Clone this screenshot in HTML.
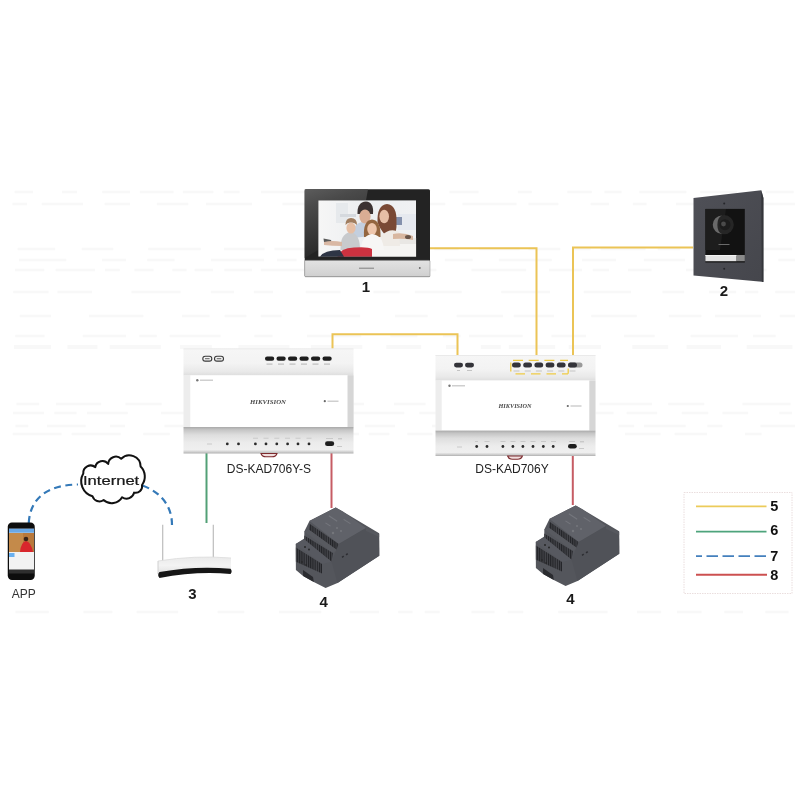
<!DOCTYPE html>
<html><head><meta charset="utf-8">
<style>
html,body{margin:0;padding:0;background:#fff;width:800px;height:800px;overflow:hidden}
svg{display:block;filter:blur(0.3px)}
text{font-family:"Liberation Sans",sans-serif}
</style></head>
<body>
<svg width="800" height="800" viewBox="0 0 800 800">
<defs>
  <linearGradient id="topsec" x1="0" y1="0" x2="0" y2="1">
    <stop offset="0" stop-color="#f6f6f6"/><stop offset="0.55" stop-color="#f3f3f3"/><stop offset="0.85" stop-color="#e9e9e9"/><stop offset="1" stop-color="#dedede"/>
  </linearGradient>
  <linearGradient id="botsec" x1="0" y1="0" x2="0" y2="1">
    <stop offset="0" stop-color="#a9a9a9"/><stop offset="0.1" stop-color="#c4c4c4"/><stop offset="0.3" stop-color="#dedede"/><stop offset="0.6" stop-color="#ececec"/><stop offset="0.86" stop-color="#efefef"/><stop offset="0.94" stop-color="#cfcfcf"/><stop offset="1" stop-color="#b0b0b0"/>
  </linearGradient>
  <linearGradient id="silver" x1="0" y1="0" x2="0" y2="1">
    <stop offset="0" stop-color="#e2e2e2"/><stop offset="0.5" stop-color="#d9d9d9"/><stop offset="1" stop-color="#cfcfcf"/>
  </linearGradient>
  <linearGradient id="bezel" x1="0" y1="0" x2="1" y2="0.3">
    <stop offset="0" stop-color="#4a4a4a"/><stop offset="0.45" stop-color="#3a3a3a"/><stop offset="0.46" stop-color="#1d1d1d"/><stop offset="1" stop-color="#1a1a1a"/>
  </linearGradient>
  <linearGradient id="doorg" x1="0" y1="0" x2="1" y2="1">
    <stop offset="0" stop-color="#4f5057"/><stop offset="1" stop-color="#45464c"/>
  </linearGradient>
  <linearGradient id="scrbg" x1="0" y1="0" x2="1" y2="0">
    <stop offset="0" stop-color="#f6f6f6"/><stop offset="0.5" stop-color="#eceef0"/><stop offset="1" stop-color="#f0f1f3"/>
  </linearGradient>
  <filter id="soft" x="-5%" y="-5%" width="110%" height="110%"><feGaussianBlur stdDeviation="0.45"/></filter>
  <linearGradient id="rtr" x1="0" y1="0" x2="0" y2="1"><stop offset="0" stop-color="#eaeaea"/><stop offset="0.5" stop-color="#f3f3f3"/><stop offset="1" stop-color="#e0e0e0"/></linearGradient>
  <pattern id="vents" width="2.2" height="10" patternUnits="userSpaceOnUse"><rect width="2.2" height="10" fill="#45464b"/><rect width="1.1" height="10" fill="#222327"/></pattern>
  <linearGradient id="refl" x1="0" y1="0" x2="0.3" y2="1"><stop offset="0" stop-color="#5c5c5c"/><stop offset="0.25" stop-color="#4a4a4a"/><stop offset="1" stop-color="#262626"/></linearGradient>
  <clipPath id="scr"><rect x="318.2" y="200.2" width="97.9" height="56.5"/></clipPath>
</defs>

<g id="ghost" fill="#f8f8f8"><rect x="14.6" y="190.7" width="18.5" height="2.6"/><rect x="61.9" y="190.7" width="15.1" height="2.6"/><rect x="102.2" y="190.7" width="27.7" height="2.6"/><rect x="139.8" y="190.7" width="33.8" height="2.6"/><rect x="182.8" y="190.7" width="30.6" height="2.6"/><rect x="223.7" y="190.7" width="15.9" height="2.6"/><rect x="261.1" y="190.7" width="47.6" height="2.6"/><rect x="320.7" y="190.7" width="21.6" height="2.6"/><rect x="370.3" y="190.7" width="52.8" height="2.6"/><rect x="449.5" y="190.7" width="29.1" height="2.6"/><rect x="517.8" y="190.7" width="14.0" height="2.6"/><rect x="567.3" y="190.7" width="24.5" height="2.6"/><rect x="604.4" y="190.7" width="17.1" height="2.6"/><rect x="639.3" y="190.7" width="47.1" height="2.6"/><rect x="700.2" y="190.7" width="37.0" height="2.6"/><rect x="765.7" y="190.7" width="28.0" height="2.6"/><rect x="12.5" y="202.7" width="14.6" height="2.6"/><rect x="41.7" y="202.7" width="41.3" height="2.6"/><rect x="104.6" y="202.7" width="25.5" height="2.6"/><rect x="156.8" y="202.7" width="31.5" height="2.6"/><rect x="205.9" y="202.7" width="46.2" height="2.6"/><rect x="282.4" y="202.7" width="22.5" height="2.6"/><rect x="331.3" y="202.7" width="34.6" height="2.6"/><rect x="401.9" y="202.7" width="43.4" height="2.6"/><rect x="462.5" y="202.7" width="54.1" height="2.6"/><rect x="528.4" y="202.7" width="30.0" height="2.6"/><rect x="590.6" y="202.7" width="18.5" height="2.6"/><rect x="632.8" y="202.7" width="13.7" height="2.6"/><rect x="675.9" y="202.7" width="44.9" height="2.6"/><rect x="747.1" y="202.7" width="47.9" height="2.6"/><rect x="17.6" y="247.7" width="37.6" height="2.6"/><rect x="81.7" y="247.7" width="31.6" height="2.6"/><rect x="148.2" y="247.7" width="52.6" height="2.6"/><rect x="224.0" y="247.7" width="40.6" height="2.6"/><rect x="274.5" y="247.7" width="42.2" height="2.6"/><rect x="345.3" y="247.7" width="54.7" height="2.6"/><rect x="434.3" y="247.7" width="24.2" height="2.6"/><rect x="478.9" y="247.7" width="40.8" height="2.6"/><rect x="528.4" y="247.7" width="31.9" height="2.6"/><rect x="573.6" y="247.7" width="17.0" height="2.6"/><rect x="600.6" y="247.7" width="45.0" height="2.6"/><rect x="657.7" y="247.7" width="22.6" height="2.6"/><rect x="700.9" y="247.7" width="49.5" height="2.6"/><rect x="760.9" y="247.7" width="31.3" height="2.6"/><rect x="19.1" y="258.7" width="47.2" height="2.6"/><rect x="101.9" y="258.7" width="24.0" height="2.6"/><rect x="147.2" y="258.7" width="27.4" height="2.6"/><rect x="210.9" y="258.7" width="53.2" height="2.6"/><rect x="276.9" y="258.7" width="19.6" height="2.6"/><rect x="311.9" y="258.7" width="22.0" height="2.6"/><rect x="357.5" y="258.7" width="37.3" height="2.6"/><rect x="411.2" y="258.7" width="12.2" height="2.6"/><rect x="444.8" y="258.7" width="27.9" height="2.6"/><rect x="498.8" y="258.7" width="53.0" height="2.6"/><rect x="581.9" y="258.7" width="34.2" height="2.6"/><rect x="643.8" y="258.7" width="41.1" height="2.6"/><rect x="694.6" y="258.7" width="50.7" height="2.6"/><rect x="778.3" y="258.7" width="16.7" height="2.6"/><rect x="15.1" y="268.7" width="29.2" height="2.6"/><rect x="55.6" y="268.7" width="39.3" height="2.6"/><rect x="104.9" y="268.7" width="14.9" height="2.6"/><rect x="134.5" y="268.7" width="19.0" height="2.6"/><rect x="172.3" y="268.7" width="14.3" height="2.6"/><rect x="194.6" y="268.7" width="18.5" height="2.6"/><rect x="224.3" y="268.7" width="27.6" height="2.6"/><rect x="260.8" y="268.7" width="49.6" height="2.6"/><rect x="338.0" y="268.7" width="18.4" height="2.6"/><rect x="372.5" y="268.7" width="26.9" height="2.6"/><rect x="419.1" y="268.7" width="17.3" height="2.6"/><rect x="471.5" y="268.7" width="54.7" height="2.6"/><rect x="549.1" y="268.7" width="32.8" height="2.6"/><rect x="592.7" y="268.7" width="16.4" height="2.6"/><rect x="628.1" y="268.7" width="23.4" height="2.6"/><rect x="686.0" y="268.7" width="18.9" height="2.6"/><rect x="713.6" y="268.7" width="52.9" height="2.6"/><rect x="13.2" y="290.7" width="35.4" height="2.6"/><rect x="57.4" y="290.7" width="34.7" height="2.6"/><rect x="131.4" y="290.7" width="49.1" height="2.6"/><rect x="210.8" y="290.7" width="23.2" height="2.6"/><rect x="253.8" y="290.7" width="19.2" height="2.6"/><rect x="305.7" y="290.7" width="34.9" height="2.6"/><rect x="373.5" y="290.7" width="26.2" height="2.6"/><rect x="414.8" y="290.7" width="46.9" height="2.6"/><rect x="501.2" y="290.7" width="48.7" height="2.6"/><rect x="583.7" y="290.7" width="47.2" height="2.6"/><rect x="662.5" y="290.7" width="21.7" height="2.6"/><rect x="708.9" y="290.7" width="27.3" height="2.6"/><rect x="745.1" y="290.7" width="13.2" height="2.6"/><rect x="775.2" y="290.7" width="19.8" height="2.6"/><rect x="19.7" y="314.7" width="31.2" height="2.6"/><rect x="88.9" y="314.7" width="54.5" height="2.6"/><rect x="181.9" y="314.7" width="27.7" height="2.6"/><rect x="224.6" y="314.7" width="21.8" height="2.6"/><rect x="260.7" y="314.7" width="20.8" height="2.6"/><rect x="309.5" y="314.7" width="50.7" height="2.6"/><rect x="395.1" y="314.7" width="32.6" height="2.6"/><rect x="456.6" y="314.7" width="46.4" height="2.6"/><rect x="513.7" y="314.7" width="40.4" height="2.6"/><rect x="591.2" y="314.7" width="45.6" height="2.6"/><rect x="668.8" y="314.7" width="32.6" height="2.6"/><rect x="715.1" y="314.7" width="45.9" height="2.6"/><rect x="779.7" y="314.7" width="15.3" height="2.6"/><rect x="15.2" y="334.7" width="29.3" height="2.6"/><rect x="82.7" y="334.7" width="43.2" height="2.6"/><rect x="139.3" y="334.7" width="17.5" height="2.6"/><rect x="169.6" y="334.7" width="50.9" height="2.6"/><rect x="254.3" y="334.7" width="18.3" height="2.6"/><rect x="307.1" y="334.7" width="54.2" height="2.6"/><rect x="390.3" y="334.7" width="27.1" height="2.6"/><rect x="442.9" y="334.7" width="17.6" height="2.6"/><rect x="469.0" y="334.7" width="53.7" height="2.6"/><rect x="551.5" y="334.7" width="34.6" height="2.6"/><rect x="624.0" y="334.7" width="30.7" height="2.6"/><rect x="690.6" y="334.7" width="47.5" height="2.6"/><rect x="752.9" y="334.7" width="22.8" height="2.6"/><rect x="13.9" y="345.0" width="37.2" height="4"/><rect x="67.4" y="345.0" width="30.0" height="4"/><rect x="109.7" y="345.0" width="51.1" height="4"/><rect x="180.1" y="345.0" width="31.7" height="4"/><rect x="238.5" y="345.0" width="50.9" height="4"/><rect x="310.8" y="345.0" width="51.5" height="4"/><rect x="386.3" y="345.0" width="34.9" height="4"/><rect x="446.0" y="345.0" width="12.8" height="4"/><rect x="480.8" y="345.0" width="19.9" height="4"/><rect x="508.8" y="345.0" width="46.4" height="4"/><rect x="568.7" y="345.0" width="32.4" height="4"/><rect x="632.3" y="345.0" width="35.9" height="4"/><rect x="686.6" y="345.0" width="34.3" height="4"/><rect x="746.7" y="345.0" width="45.7" height="4"/><rect x="16.5" y="402.7" width="22.7" height="2.6"/><rect x="56.0" y="402.7" width="45.2" height="2.6"/><rect x="125.5" y="402.7" width="36.2" height="2.6"/><rect x="194.0" y="402.7" width="51.2" height="2.6"/><rect x="267.4" y="402.7" width="38.3" height="2.6"/><rect x="329.9" y="402.7" width="34.0" height="2.6"/><rect x="394.1" y="402.7" width="31.5" height="2.6"/><rect x="450.6" y="402.7" width="32.6" height="2.6"/><rect x="521.3" y="402.7" width="42.1" height="2.6"/><rect x="599.4" y="402.7" width="52.5" height="2.6"/><rect x="668.2" y="402.7" width="36.1" height="2.6"/><rect x="742.5" y="402.7" width="48.1" height="2.6"/><rect x="13.0" y="411.7" width="31.0" height="2.6"/><rect x="54.3" y="411.7" width="22.3" height="2.6"/><rect x="87.0" y="411.7" width="40.8" height="2.6"/><rect x="160.9" y="411.7" width="50.6" height="2.6"/><rect x="224.4" y="411.7" width="42.8" height="2.6"/><rect x="296.3" y="411.7" width="18.1" height="2.6"/><rect x="350.7" y="411.7" width="53.6" height="2.6"/><rect x="419.3" y="411.7" width="53.0" height="2.6"/><rect x="493.0" y="411.7" width="33.0" height="2.6"/><rect x="565.7" y="411.7" width="47.8" height="2.6"/><rect x="626.6" y="411.7" width="30.6" height="2.6"/><rect x="681.7" y="411.7" width="26.6" height="2.6"/><rect x="722.5" y="411.7" width="25.7" height="2.6"/><rect x="779.3" y="411.7" width="12.8" height="2.6"/><rect x="15.5" y="424.7" width="12.8" height="2.6"/><rect x="46.9" y="424.7" width="38.8" height="2.6"/><rect x="110.1" y="424.7" width="14.8" height="2.6"/><rect x="164.4" y="424.7" width="45.9" height="2.6"/><rect x="249.4" y="424.7" width="16.5" height="2.6"/><rect x="282.4" y="424.7" width="13.7" height="2.6"/><rect x="329.0" y="424.7" width="23.6" height="2.6"/><rect x="364.8" y="424.7" width="30.2" height="2.6"/><rect x="432.1" y="424.7" width="47.2" height="2.6"/><rect x="495.6" y="424.7" width="18.4" height="2.6"/><rect x="551.5" y="424.7" width="36.5" height="2.6"/><rect x="618.4" y="424.7" width="15.8" height="2.6"/><rect x="644.1" y="424.7" width="41.6" height="2.6"/><rect x="707.3" y="424.7" width="15.1" height="2.6"/><rect x="760.5" y="424.7" width="34.5" height="2.6"/><rect x="12.7" y="432.7" width="48.8" height="2.6"/><rect x="71.6" y="432.7" width="49.1" height="2.6"/><rect x="143.2" y="432.7" width="26.6" height="2.6"/><rect x="195.5" y="432.7" width="51.8" height="2.6"/><rect x="263.9" y="432.7" width="17.6" height="2.6"/><rect x="306.4" y="432.7" width="22.3" height="2.6"/><rect x="340.1" y="432.7" width="18.9" height="2.6"/><rect x="368.7" y="432.7" width="20.7" height="2.6"/><rect x="407.3" y="432.7" width="25.1" height="2.6"/><rect x="464.7" y="432.7" width="24.5" height="2.6"/><rect x="513.2" y="432.7" width="19.6" height="2.6"/><rect x="552.0" y="432.7" width="12.8" height="2.6"/><rect x="580.8" y="432.7" width="12.7" height="2.6"/><rect x="624.9" y="432.7" width="35.7" height="2.6"/><rect x="674.6" y="432.7" width="32.4" height="2.6"/><rect x="745.0" y="432.7" width="16.6" height="2.6"/><rect x="15.5" y="610.7" width="33.3" height="2.6"/><rect x="83.5" y="610.7" width="28.9" height="2.6"/><rect x="136.6" y="610.7" width="41.6" height="2.6"/><rect x="217.6" y="610.7" width="26.7" height="2.6"/><rect x="278.9" y="610.7" width="42.4" height="2.6"/><rect x="349.7" y="610.7" width="29.4" height="2.6"/><rect x="398.2" y="610.7" width="14.3" height="2.6"/><rect x="424.7" y="610.7" width="15.0" height="2.6"/><rect x="471.5" y="610.7" width="23.0" height="2.6"/><rect x="507.7" y="610.7" width="15.6" height="2.6"/><rect x="558.2" y="610.7" width="49.4" height="2.6"/><rect x="637.1" y="610.7" width="24.1" height="2.6"/><rect x="677.0" y="610.7" width="24.6" height="2.6"/><rect x="724.3" y="610.7" width="18.8" height="2.6"/><rect x="765.3" y="610.7" width="23.3" height="2.6"/></g>
<!-- ===== LINES ===== -->
<g fill="none" stroke-width="2">
  <path d="M430 248.2 H536.5 V355" stroke="#ebc456"/>
  <path d="M693 247.5 H573 V355" stroke="#ebc456"/>
  <path d="M332.5 349 V334.3 H457.5 V355" stroke="#ebc456"/>
  <path d="M206.5 453 V523" stroke="#52a076"/>
  <path d="M331.5 453 V508" stroke="#c65c64"/>
  <path d="M572.8 456 V505" stroke="#c65c64"/>
  <path d="M28.75 523 C 30 500, 45 485, 78 484.5" stroke="#3479b8" stroke-width="2.2" stroke-dasharray="7 4.5"/>
  <path d="M142.5 485.5 C 160 492, 172 505, 172 525" stroke="#3479b8" stroke-width="2.2" stroke-dasharray="7 4.5"/>
</g>

<!-- ===== MONITOR (1) ===== -->
<g id="monitor">
  <rect x="304.7" y="189.2" width="125.3" height="87.8" rx="1.5" fill="#232323"/>
  <polygon points="304.7,189.2 368,189.2 366,200.2 318.2,200.2 318.2,250 304.7,258" fill="url(#refl)"/>
  <rect x="304.7" y="260.4" width="125.3" height="16.4" rx="1" fill="url(#silver)" stroke="#9a9a9a" stroke-width="0.6"/>
  <rect x="359" y="267.6" width="15" height="1.3" fill="#666" opacity="0.6"/>
  <circle cx="419.8" cy="268" r="0.9" fill="#666"/>
  <g clip-path="url(#scr)">
    <g filter="url(#soft)">
    <rect x="318.2" y="200.2" width="97.9" height="56.5" fill="url(#scrbg)"/>
    <rect x="336" y="203" width="12" height="20" fill="#e6e9ec"/>
    <rect x="340" y="214" width="16" height="3" fill="#d5d9de"/>
    <rect x="398" y="214" width="18" height="16" fill="#e6e9ef"/>
    <rect x="395" y="217" width="7" height="8" fill="#5a6a90" opacity="0.7"/>
    <!-- sofa -->
    <rect x="372" y="240" width="46" height="18" fill="#f5f4f2"/>
    <rect x="396" y="238" width="22" height="6" fill="#e9e7e4"/>
    <!-- man -->
    <path d="M352 238 Q352 224 362 222 Q371 223 372 236 Z" fill="#c3cfdf"/>
    <path d="M357.5 214 Q357 202 366 201.5 Q374 202 373 214 Z" fill="#3b3330"/>
    <ellipse cx="365" cy="216.5" rx="5.6" ry="7" fill="#d9ad94"/>
    <!-- woman -->
    <path d="M377.5 222 Q377 205 387 204 Q397 205 396.5 222 Q397 233 393 237 L386 236 Q381 230 379 226 Z" fill="#7a4a36"/>
    <ellipse cx="384.2" cy="216.5" rx="4.8" ry="6.8" fill="#e6bea6"/>
    <path d="M381 236 Q390 227 399 232 L400 246 L382 246 Z" fill="#efebe6"/>
    <path d="M393 234 Q403 232 413 236 L413 240 Q403 238 393 239 Z" fill="#d8b7a0"/>
    <ellipse cx="408" cy="237" rx="3" ry="2" fill="#6b5548"/>
    <!-- boy -->
    <path d="M340.5 250 Q340 234 350 232 Q360 233 360 250 Z" fill="#c8cacd"/>
    <ellipse cx="351" cy="228" rx="4.6" ry="5.6" fill="#e6bfa5"/>
    <path d="M345.5 225 Q345.5 218 351 218 Q357 218 357 225 Q354.5 222 351 222.5 Q347.5 222 345.5 225Z" fill="#a07d5e"/>
    <polygon points="323.5,238.5 331,240 332,243.5 324,242" fill="#5a5a5a"/>
    <path d="M324 242 Q332 240 342 242 L342 246 Q332 246 324 245 Z" fill="#d9b8a4"/>
    <!-- girl -->
    <path d="M364 237 Q363 220 372 219.5 Q381 220 380.5 237 Z" fill="#94663f"/>
    <ellipse cx="372" cy="229" rx="4.8" ry="6" fill="#eec6ac"/>
    <path d="M360.5 250 Q362 235 372 234 Q383 235 384 250 Z" fill="#f7f6f5"/>
    <!-- pants -->
    <path d="M337.5 256.7 Q340 248 354 247.5 Q368 246.5 372 249 L372 256.7 Z" fill="#cc3341"/>
    <path d="M320 256.7 Q324 250 340 250 L344 256.7 Z" fill="#2d3444"/>
    </g>
  </g>
</g>

<!-- ===== DOOR STATION (2) ===== -->
<g id="door">
  <polygon points="693.5,197.9 761.3,190.3 763.4,198 763.4,282 761.8,281.8 693.5,275.6" fill="url(#doorg)"/>
  <polygon points="761.3,190.3 763.4,198 763.4,282 761.8,281.8" fill="#34353a"/>
  <rect x="705.4" y="208.9" width="39.4" height="53.6" fill="#121212"/>
  <polygon points="705.4,208.9 726,208.9 720,250 705.4,250" fill="#1d1d1d"/>
  <circle cx="724.2" cy="224.7" r="9.6" fill="#262626"/>
  <path d="M722 215.5 A9 9 0 0 0 722 234 A6 9.5 0 0 1 722 215.5 Z" fill="#6a6a6a"/>
  <circle cx="725" cy="224.7" r="5.5" fill="#1c1c1c"/>
  <circle cx="723.5" cy="224" r="2.4" fill="#4a4a4a"/>
  <rect x="718.5" y="244" width="11" height="1" fill="#6a6a6a"/>
  <rect x="705.4" y="255" width="31.2" height="6.2" fill="#e3e3e3"/>
  <rect x="705.4" y="255" width="31.2" height="1" fill="#f3f3f3"/>
  <rect x="736.6" y="255" width="8.2" height="6.2" fill="#8a8a8a"/>
  <circle cx="724.2" cy="203.4" r="1" fill="#25262a"/>
  <circle cx="724.2" cy="268.7" r="1" fill="#25262a"/>
</g>

<!-- ===== SWITCH 1 ===== -->
<g id="sw1">
  <rect x="183.5" y="348.5" width="170" height="27" fill="url(#topsec)"/>
  <rect x="183.5" y="348.5" width="170" height="0.8" fill="#e8e8e8"/>
  <rect x="183.5" y="375.3" width="170" height="52" fill="#ededed"/>
  <rect x="190.3" y="375.3" width="157.3" height="51.7" fill="#ffffff"/>
  <rect x="347.6" y="375.3" width="5.9" height="51.7" fill="#d6d6d6"/>
  <rect x="183.5" y="427" width="170" height="26.5" fill="url(#botsec)"/>
  <!-- connectors -->
  <g fill="none" stroke="#3a3a3a" stroke-width="1.1">
    <rect x="202.8" y="356.3" width="9" height="4.8" rx="2.4"/>
    <rect x="214.5" y="356.3" width="9" height="4.8" rx="2.4"/>
  </g>
  <g fill="#4a4a4a"><rect x="205" y="358.3" width="4.6" height="0.9"/><rect x="216.7" y="358.3" width="4.6" height="0.9"/></g>
  <g fill="#1e1e1e">
    <rect x="265" y="356.5" width="9.2" height="4.3" rx="2.1"/>
    <rect x="276.5" y="356.5" width="9.2" height="4.3" rx="2.1"/>
    <rect x="288" y="356.5" width="9.2" height="4.3" rx="2.1"/>
    <rect x="299.5" y="356.5" width="9.2" height="4.3" rx="2.1"/>
    <rect x="311" y="356.5" width="9.2" height="4.3" rx="2.1"/>
    <rect x="322.5" y="356.5" width="9.2" height="4.3" rx="2.1"/>
  </g>
  <g fill="#bdbdbd">
    <rect x="266.5" y="363.5" width="6" height="1.2"/><rect x="278" y="363.5" width="6" height="1.2"/><rect x="289.5" y="363.5" width="6" height="1.2"/>
    <rect x="301" y="363.5" width="6" height="1.2"/><rect x="312.5" y="363.5" width="6" height="1.2"/><rect x="324" y="363.5" width="6" height="1.2"/>
  </g>
  <circle cx="197.3" cy="380.2" r="1.2" fill="#777"/>
  <rect x="200" y="379.6" width="13" height="1.2" fill="#c4c4c4"/>
  <text x="268" y="403.6" style="font-family:'Liberation Serif',serif;font-weight:bold;font-style:italic;font-size:6.8px" fill="#4a4a4a" lengthAdjust="spacingAndGlyphs" text-anchor="middle" textLength="36">HIKVISION</text>
  <circle cx="324.8" cy="401.2" r="1.1" fill="#666"/>
  <rect x="327.5" y="400.6" width="11" height="1.2" fill="#c4c4c4"/>
  <!-- bottom -->
  <g fill="#2a2a2a">
    <circle cx="227.3" cy="443.9" r="1.4"/><circle cx="238.5" cy="443.9" r="1.4"/>
    <circle cx="255.4" cy="443.9" r="1.4"/><circle cx="266" cy="443.9" r="1.4"/><circle cx="276.8" cy="443.9" r="1.4"/>
    <circle cx="287.6" cy="443.9" r="1.4"/><circle cx="298" cy="443.9" r="1.4"/><circle cx="309" cy="443.9" r="1.4"/>
  </g>
  <g fill="#c9c9c9">
    <rect x="253" y="437.7" width="5" height="1"/><rect x="263.5" y="437.7" width="5" height="1"/><rect x="274.3" y="437.7" width="5" height="1"/>
    <rect x="285" y="437.7" width="5" height="1"/><rect x="295.5" y="437.7" width="5" height="1"/><rect x="306.5" y="437.7" width="5" height="1"/>
    <rect x="207" y="443.5" width="5" height="1"/><rect x="337" y="446" width="5" height="1"/><rect x="338" y="438" width="4" height="1.4"/><rect x="326" y="438" width="7" height="1"/>
  </g>
  <rect x="325" y="441.3" width="9.2" height="4.8" rx="2.4" fill="#1e1e1e"/>
  <path d="M261 453.5 Q262 456.8 266 456.8 L272 456.8 Q276 456.8 277 453.5 Z" fill="#f1dede" stroke="#7d2b2e" stroke-width="1.1"/>
</g>

<!-- ===== SWITCH 2 ===== -->
<g id="sw2">
  <rect x="435.5" y="355" width="160" height="25.6" fill="url(#topsec)"/>
  <rect x="435.5" y="355" width="160" height="0.8" fill="#e8e8e8"/>
  <rect x="435.5" y="380.6" width="160" height="50" fill="#ededed"/>
  <rect x="441.7" y="380.6" width="147.7" height="50" fill="#ffffff"/>
  <rect x="589.4" y="380.6" width="6" height="50" fill="#d6d6d6"/>
  <rect x="435.5" y="430.6" width="160" height="25.4" fill="url(#botsec)"/>
  <g fill="#34343a">
    <rect x="454" y="362.8" width="9" height="4.6" rx="2.3"/>
    <rect x="465" y="362.8" width="9" height="4.6" rx="2.3"/>
    <rect x="512" y="362.6" width="8.8" height="5" rx="2.5"/>
    <rect x="523.2" y="362.6" width="8.8" height="5" rx="2.5"/>
    <rect x="534.4" y="362.6" width="8.8" height="5" rx="2.5"/>
    <rect x="545.6" y="362.6" width="8.8" height="5" rx="2.5"/>
    <rect x="556.8" y="362.6" width="8.8" height="5" rx="2.5"/>
  </g>
  <rect x="568" y="362.6" width="14.5" height="5" rx="2.5" fill="#9a9a9a"/>
  <rect x="568" y="362.6" width="9" height="5" rx="2.5" fill="#34343a"/>
  <g fill="#c4c4c4">
    <rect x="457" y="370" width="3" height="1"/><rect x="467" y="370" width="5" height="1"/>
    <rect x="513.5" y="370.5" width="6" height="1"/><rect x="524.7" y="370.5" width="6" height="1"/><rect x="535.9" y="370.5" width="6" height="1"/>
    <rect x="547.1" y="370.5" width="6" height="1"/><rect x="558.3" y="370.5" width="6" height="1"/><rect x="569.5" y="370.5" width="6" height="1"/>
  </g>
  <!-- dashed yellow highlight -->
  <g fill="none" stroke="#efcb45" stroke-width="1.3">
    <path d="M513 360.3 H568" stroke-dasharray="10 5.7"/>
    <path d="M515.5 373.8 H568" stroke-dasharray="9.5 6"/>
    <path d="M510.8 362.5 V371.5"/>
    <path d="M568.2 368.5 V373.8"/>
  </g>
  <circle cx="449.5" cy="385.8" r="1.2" fill="#777"/>
  <rect x="452" y="385.2" width="13" height="1.2" fill="#c4c4c4"/>
  <text x="515" y="408.2" style="font-family:'Liberation Serif',serif;font-weight:bold;font-style:italic;font-size:6.8px" fill="#4a4a4a" lengthAdjust="spacingAndGlyphs" text-anchor="middle" textLength="33">HIKVISION</text>
  <circle cx="567.8" cy="406" r="1.1" fill="#666"/>
  <rect x="570.5" y="405.4" width="11" height="1.2" fill="#c4c4c4"/>
  <g fill="#2a2a2a">
    <circle cx="476.7" cy="446.5" r="1.4"/><circle cx="487" cy="446.5" r="1.4"/>
    <circle cx="502.9" cy="446.5" r="1.4"/><circle cx="512.9" cy="446.5" r="1.4"/><circle cx="522.9" cy="446.5" r="1.4"/>
    <circle cx="533" cy="446.5" r="1.4"/><circle cx="543.3" cy="446.5" r="1.4"/><circle cx="553.2" cy="446.5" r="1.4"/>
  </g>
  <g fill="#c9c9c9">
    <rect x="475" y="441" width="3" height="1"/><rect x="484.5" y="441" width="5" height="1"/>
    <rect x="500.5" y="441" width="5" height="1"/><rect x="510.5" y="441" width="5" height="1"/><rect x="520.5" y="441" width="5" height="1"/>
    <rect x="530.5" y="441" width="5" height="1"/><rect x="541" y="441" width="5" height="1"/><rect x="551" y="441" width="5" height="1"/>
    <rect x="457" y="446.5" width="5" height="1"/><rect x="579" y="448" width="5" height="1"/><rect x="580" y="441" width="4" height="1.4"/><rect x="569" y="441" width="6" height="1"/>
  </g>
  <rect x="568" y="444" width="8.8" height="4.6" rx="2.3" fill="#1e1e1e"/>
  <path d="M507.6 456 Q508.6 459.2 512.5 459.2 L517.5 459.2 Q521.4 459.2 522.4 456 Z" fill="#f1dede" stroke="#7d2b2e" stroke-width="1.1"/>
</g>

<!-- ===== PHONE ===== -->
<g id="phone">
  <rect x="7.75" y="522.5" width="27" height="57.5" rx="4.2" fill="#0d0d0d"/>
  <rect x="9" y="528.75" width="25" height="41.25" fill="#f2f2f2"/>
  <rect x="9" y="528.75" width="25" height="4" fill="#6aa8e6"/>
  <rect x="9" y="533" width="25" height="19" fill="#b9793c"/>
  <rect x="9" y="533" width="14" height="19" fill="#c48a4a"/>
  <path d="M20 552 Q21 542 26 541 Q31 542 33 552 Z" fill="#d8262c"/>
  <circle cx="26" cy="539" r="2.3" fill="#3a2418"/>
  <rect x="9" y="553" width="5.5" height="4" fill="#6ab0ee"/>
  <rect x="9" y="569.5" width="25" height="4" fill="#2e2e2e"/>
</g>

<!-- ===== CLOUD ===== -->
<g id="cloud">
  <path d="M83.3 473.5 A7.4 7.4 0 0 1 95.3 467.1 A7.2 7.2 0 0 1 108.2 463.9 A7.7 7.7 0 0 1 121.2 458.8 A11.3 11.3 0 0 1 140.6 466.5 A14.1 14.1 0 0 1 142 485 A6.5 6.5 0 0 1 134.1 492.6 A7.7 7.7 0 0 1 122.1 497.2 A12 12 0 0 1 103.6 500 A7.2 7.2 0 0 1 92.5 496.3 A15.6 15.6 0 0 1 83.3 473.5 Z" fill="#fff" stroke="#111" stroke-width="2" stroke-linejoin="round"/>
  <text transform="translate(83 484.8) scale(1.22 1)" x="0" y="0" font-size="13.6" fill="#1a1a1a" stroke="#1a1a1a" stroke-width="0.25">Internet</text>
</g>

<!-- ===== ROUTER ===== -->
<g id="router">
  <line x1="162.7" y1="524.8" x2="162.7" y2="561" stroke="#bdbdbd" stroke-width="1.2"/>
  <line x1="213.3" y1="524.8" x2="213.3" y2="559" stroke="#bdbdbd" stroke-width="1.2"/>
  <path d="M158 561 Q195 555 231 558 L231 571 Q195 567 158 574 Z" fill="url(#rtr)"/>
  <path d="M158 561 Q195 555 231 558" fill="none" stroke="#dcdcdc" stroke-width="0.8"/>
  <path d="M158 561 L158 574" stroke="#d0d0d0" stroke-width="1"/>
  <path d="M159.5 572 Q196 565.5 230.5 568.8 Q232.8 571.4 230.5 574 Q196 571 159.5 578 Q156.8 575 159.5 572 Z" fill="#161616"/>
</g>

<!-- ===== POWER SUPPLIES ===== -->
<g id="psu1">
  <polygon points="309.6,520.8 335.7,507.4 342.3,511.3 379.1,533.3 379.3,555.8 337.5,583.1 325.6,587.9 313.8,582 303.1,576 295.9,570.1 295.7,543.9 304.3,538.6 304.3,531.5" fill="#54565c"/>
  <polygon points="309.6,521.1 335.7,507.4 342.3,511.3 366,527.9 338.7,543.9" fill="#606269"/>
  <polygon points="309.6,523.8 338.7,543.9 337.5,550.5 309,529.7" fill="url(#vents)"/>
  <polygon points="304.3,531.5 309,529.7 337.5,550.5 332.8,552.9" fill="#585a60"/>
  <polygon points="304.3,535.6 332.8,552.9 331.6,561.8 304.3,540.4" fill="url(#vents)"/>
  <polygon points="295.7,543.9 304.3,539.2 331.6,561.8 322,564.1" fill="#575960"/>
  <polygon points="295.9,547.5 322,564.1 322,573.6 295.9,561.8" fill="url(#vents)"/>
  <polygon points="338.7,543.9 366,527.9 379.1,533.8 379.3,555.8 337.5,583.1 331.6,561.8" fill="#505258"/>
  <polygon points="366,527.9 379.1,533.8 379.1,537 366,531" fill="#56585e"/>
  <polygon points="303,570 313,577 313.8,582 303.1,576" fill="#2a2b2f"/>
  <circle cx="305" cy="547" r="0.9" fill="#222"/><circle cx="309" cy="549.5" r="0.9" fill="#222"/>
  <circle cx="302" cy="562" r="0.8" fill="#222"/><circle cx="306" cy="565" r="0.8" fill="#222"/>
  <g fill="#7a7c82" opacity="0.8">
    <rect x="328" y="518" width="10" height="1" transform="rotate(33 333 518.5)"/>
    <rect x="325" y="524" width="6" height="1" transform="rotate(33 328 524.5)"/>
    <circle cx="337" cy="528" r="1"/><circle cx="341" cy="531" r="1"/><circle cx="333" cy="533" r="1.2"/>
    <rect x="343" y="521" width="8" height="1" transform="rotate(33 347 521.5)"/>
  </g>
  <rect x="342" y="556" width="2" height="1.5" fill="#2c2d31" transform="rotate(-33 343 557)"/>
  <rect x="346" y="553.5" width="2" height="1.5" fill="#2c2d31" transform="rotate(-33 347 554.5)"/>
</g>
<use href="#psu1" transform="translate(240,-2)"/>

<!-- ===== LABELS ===== -->
<g fill="#1a1a1a" font-weight="bold" font-size="15">
  <text x="366" y="292.3" text-anchor="middle">1</text>
  <text x="724" y="296.3" text-anchor="middle">2</text>
  <text x="192.4" y="598.5" text-anchor="middle">3</text>
  <text x="323.6" y="607.2" text-anchor="middle">4</text>
  <text x="570.4" y="603.7" text-anchor="middle">4</text>
</g>
<g fill="#222" font-size="12">
  <text x="269" y="472.5" text-anchor="middle">DS-KAD706Y-S</text>
  <text x="512" y="473" text-anchor="middle">DS-KAD706Y</text>
  <text x="23.7" y="597.5" text-anchor="middle" fill="#333">APP</text>
</g>

<!-- ===== LEGEND ===== -->
<g id="legend">
  <rect x="684" y="492.5" width="108" height="101" fill="none" stroke="#eadede" stroke-width="1" stroke-dasharray="1.5 1"/>
  <line x1="696" y1="506.4" x2="766.5" y2="506.4" stroke="#eccb5a" stroke-width="1.8"/>
  <line x1="696" y1="531.7" x2="766.5" y2="531.7" stroke="#4ea47c" stroke-width="1.8"/>
  <line x1="696" y1="556.2" x2="766" y2="556.2" stroke="#4480bd" stroke-width="1.8" stroke-dasharray="11.5 4.5" stroke-dashoffset="5.5"/>
  <line x1="696" y1="574.8" x2="767" y2="574.8" stroke="#cc5050" stroke-width="1.9"/>
  <g fill="#111" font-weight="bold" font-size="14.5">
    <text x="770.2" y="511.4">5</text>
    <text x="770.2" y="534.6">6</text>
    <text x="770.2" y="561.4">7</text>
    <text x="770.2" y="580.3">8</text>
  </g>
</g>
</svg>
</body></html>
